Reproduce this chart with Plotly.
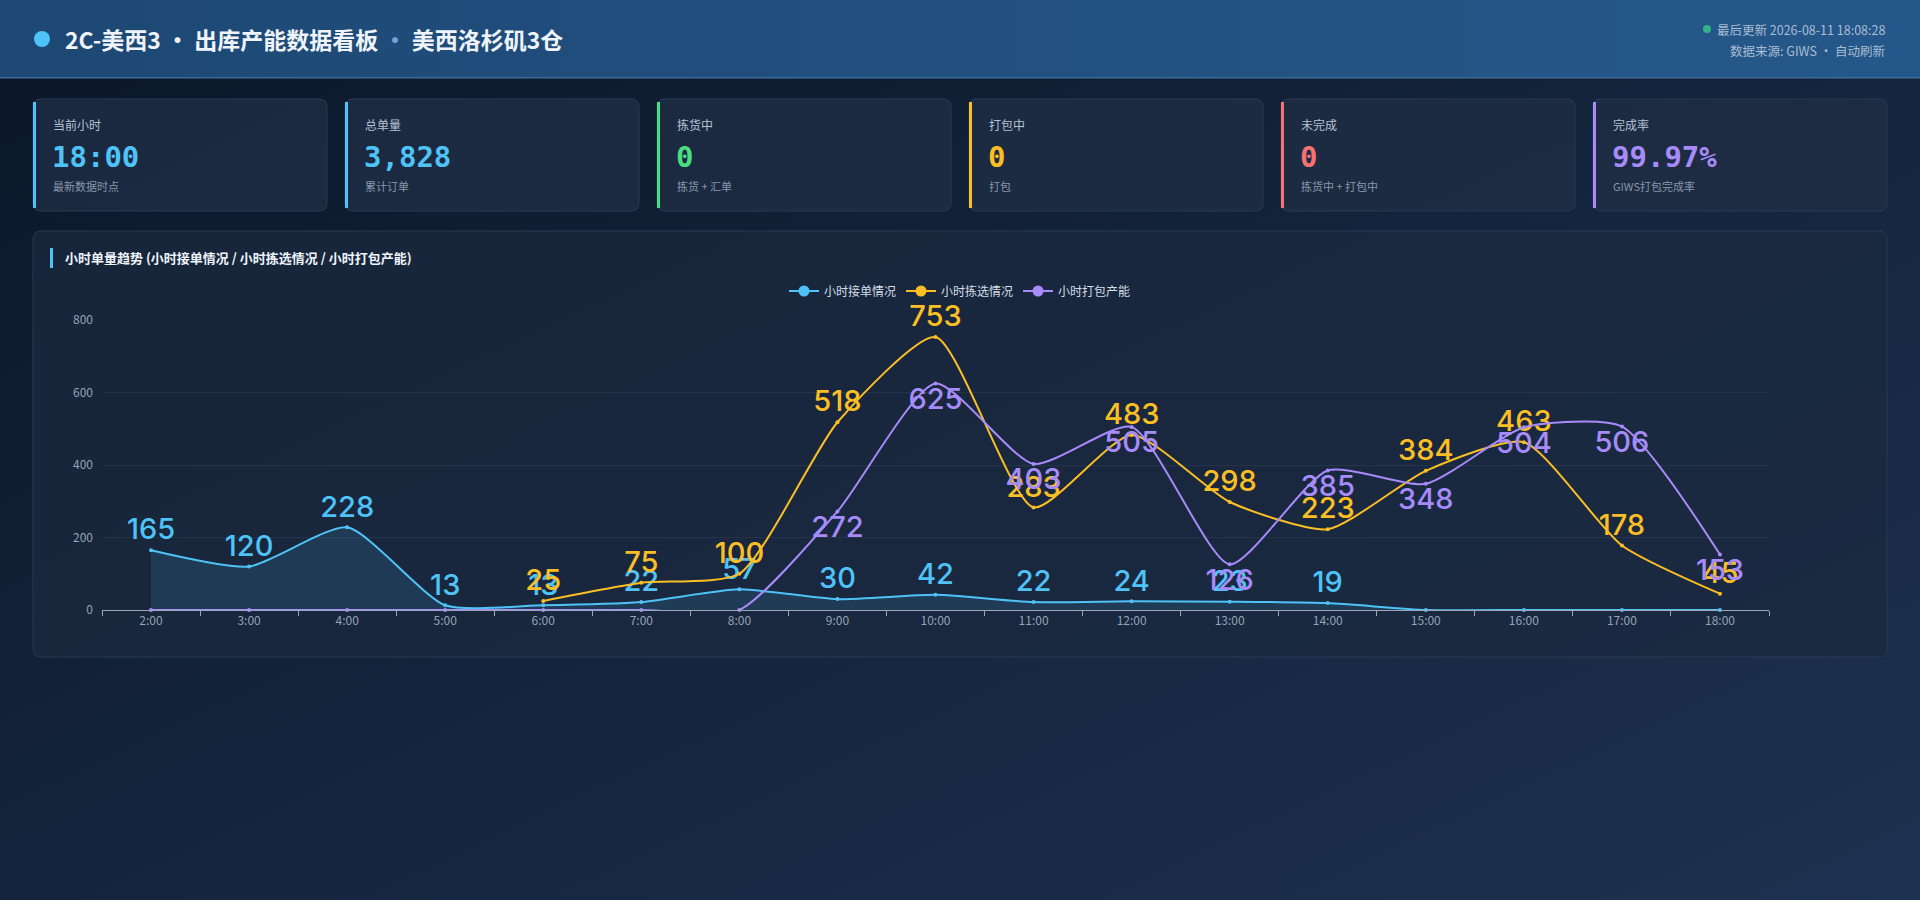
import base64
import plotly.graph_objects as go

W, H = 1920, 900

# ---- data ----
hours = ["2:00", "3:00", "4:00", "5:00", "6:00", "7:00", "8:00", "9:00", "10:00",
         "11:00", "12:00", "13:00", "14:00", "15:00", "16:00", "17:00", "18:00"]
orders_in = [165, 120, 228, 13, 13, 22, 57, 30, 42, 22, 24, 23, 19, 0, 0, 0, 0]
picked = [None, None, None, None, 25, 75, 100, 518, 753, 283, 483, 298, 223, 384, 463, 178, 45]
packed = [0, 0, 0, 0, 0, 0, 0, 272, 625, 403, 505, 126, 385, 348, 504, 506, 153]

series_names = ["小时接单情况", "小时拣选情况", "小时打包产能"]

card_titles = ["当前小时", "总单量", "拣货中", "打包中", "未完成", "完成率"]
card_values = ["18:00", "3,828", "0", "0", "0", "99.97%"]
card_notes = ["最新数据时点", "累计订单", "拣货 + 汇单", "打包", "拣货中 + 打包中", "GIWS打包完成率"]

BLUE, YELLOW, PURPLE = "#4fc3f7", "#fbbf24", "#a78bfa"
card_colors = [BLUE, BLUE, "#4ade80", YELLOW, "#f87171", PURPLE]

CJK = "Noto Sans CJK SC"
MONO = "DejaVu Sans Mono"
NUM = "Inter"


def fx(x):
    return x / W


def fy(y):
    return 1 - y / H


def rrect(x0, y0, x1, y1, r):
    # rounded rectangle as an svg path in paper coords
    pts = [("M", [(x0 + r, y0)]), ("L", [(x1 - r, y0)]), ("Q", [(x1, y0), (x1, y0 + r)]),
           ("L", [(x1, y1 - r)]), ("Q", [(x1, y1), (x1 - r, y1)]), ("L", [(x0 + r, y1)]),
           ("Q", [(x0, y1), (x0, y1 - r)]), ("L", [(x0, y0 + r)]), ("Q", [(x0, y0), (x0 + r, y0)])]
    out = ""
    for cmd, ps in pts:
        out += cmd + " " + " ".join(f"{fx(a):.5f},{fy(b):.5f}" for a, b in ps) + " "
    return out + "Z"


def labels(vals):
    return [str(v) if v else "" for v in vals]


fig = go.Figure()

# backdrop gradients (page + header)
svg = f'''<svg xmlns="http://www.w3.org/2000/svg" width="{W}" height="{H}" viewBox="0 0 {W} {H}" preserveAspectRatio="none">
<defs>
<linearGradient id="bg" x1="0" y1="0" x2="1" y2="1"><stop offset="0" stop-color="#0b1728"/><stop offset="1" stop-color="#1d3150"/></linearGradient>
<linearGradient id="hd" x1="0" y1="0" x2="1" y2="0"><stop offset="0" stop-color="#1d4874"/><stop offset="1" stop-color="#25588a"/></linearGradient>
</defs>
<rect width="{W}" height="{H}" fill="url(#bg)"/>
<rect width="{W}" height="78" fill="url(#hd)"/>
<rect y="77" width="{W}" height="1.5" fill="#3d6b97"/>
</svg>'''
src = "data:image/svg+xml;base64," + base64.b64encode(svg.encode("utf-8")).decode("ascii")
fig.add_layout_image(source=src, xref="paper", yref="paper", x=0, y=1, sizex=1, sizey=1,
                     xanchor="left", yanchor="top", sizing="stretch", layer="below")

# ---- traces ----
series = [orders_in, picked, packed]
colors = [BLUE, YELLOW, PURPLE]
positions = ["top center", "top center", "bottom center"]
for vals, name, col, pos in zip(series, series_names, colors, positions):
    fig.add_trace(go.Scatter(
        x=hours, y=vals, name=name, mode="lines+markers+text", showlegend=False,
        line=dict(color=col, width=2, shape="spline", smoothing=0.6),
        marker=dict(size=4, color=col),
        fill="tozeroy" if vals is orders_in else None,
        fillcolor="rgba(79,195,247,0.13)",
        text=labels(vals), textposition=pos,
        textfont=dict(family=NUM, size=29, color=col, weight=500), cliponaxis=False))

# legend entries with bigger symbol, like the reference legend
for name, col in zip(series_names, colors):
    fig.add_trace(go.Scatter(x=[None], y=[None], name=name, mode="lines+markers",
                             line=dict(color=col, width=2), marker=dict(size=11, color=col)))

shapes = []
ann = []

# header title + status
shapes.append(dict(type="circle", xref="paper", yref="paper", x0=fx(34), x1=fx(50), y0=fy(31), y1=fy(47),
                   fillcolor=BLUE, line=dict(width=0), layer="below"))
ann.append(dict(x=fx(63), y=fy(39), text="<b>2C-美西3 · 出库产能数据看板 <span style='color:#6fa8d8'>·</span> 美西洛杉矶3仓</b>",
                font=dict(family=CJK, size=23, color="#eef4fa")))
shapes.append(dict(type="circle", xref="paper", yref="paper", x0=fx(1703), x1=fx(1711), y0=fy(25), y1=fy(33),
                   fillcolor="#36b386", line=dict(width=0), layer="below"))
ann.append(dict(x=fx(1887), y=fy(29), xanchor="right", text="最后更新 2026-08-11 18:08:28",
                font=dict(family=CJK, size=12.5, color="#a9bdd3")))
ann.append(dict(x=fx(1887), y=fy(50), xanchor="right", text="数据来源: GIWS · 自动刷新",
                font=dict(family=CJK, size=12.5, color="#a9bdd3")))

# KPI cards
for i in range(6):
    x0 = 33 + i * 312
    x1 = x0 + 294
    shapes.append(dict(type="path", xref="paper", yref="paper", path=rrect(x0, 99, x1, 211, 8),
                       fillcolor="rgba(30,45,68,0.85)", line=dict(color="#2a3b55", width=1), layer="below"))
    shapes.append(dict(type="rect", xref="paper", yref="paper", x0=fx(x0), x1=fx(x0 + 3), y0=fy(102), y1=fy(208),
                       fillcolor=card_colors[i], line=dict(width=0), layer="below"))
    ann.append(dict(x=fx(x0 + 18), y=fy(125), text=card_titles[i],
                    font=dict(family=CJK, size=12, color="#b4c2d3")))
    ann.append(dict(x=fx(x0 + 17), y=fy(157), text=f"<b>{card_values[i]}</b>",
                    font=dict(family=MONO, size=29, color=card_colors[i])))
    ann.append(dict(x=fx(x0 + 18), y=fy(186), text=card_notes[i],
                    font=dict(family=CJK, size=11, color="#8797ab")))

# chart panel
shapes.append(dict(type="path", xref="paper", yref="paper", path=rrect(33, 231, 1887, 657, 8),
                   fillcolor="rgba(27,41,63,0.75)", line=dict(color="#283a53", width=1), layer="below"))
shapes.append(dict(type="rect", xref="paper", yref="paper", x0=fx(50), x1=fx(53), y0=fy(248), y1=fy(268),
                   fillcolor=BLUE, line=dict(width=0), layer="below"))
ann.append(dict(x=fx(63), y=fy(258), text="<b>小时单量趋势 (小时接单情况 / 小时拣选情况 / 小时打包产能)</b>",
                font=dict(family=CJK, size=13, color="#eef4fa")))

for a in ann:
    a.update(xref="paper", yref="paper", showarrow=False, xanchor=a.get("xanchor", "left"), yanchor="middle")

fig.update_layout(
    width=W, height=H, margin=dict(l=0, r=0, t=0, b=0, pad=0, autoexpand=False),
    paper_bgcolor="#13223a", plot_bgcolor="rgba(0,0,0,0)",
    font=dict(family=CJK, color="#94a3b8"),
    shapes=shapes, annotations=ann,
    showlegend=True,
    legend=dict(orientation="h", x=0.5, xanchor="center", y=fy(291), yanchor="middle",
                font=dict(family=CJK, size=12, color="#d4dde8"), bgcolor="rgba(0,0,0,0)",
                itemwidth=30, traceorder="normal"),
    xaxis=dict(domain=[fx(102), fx(1769)], type="category", range=[-0.5, len(hours) - 0.5],
               tickson="boundaries", ticks="outside",
               ticklen=5, tickcolor="#9aa8ba", showline=True, linecolor="#9aa8ba", linewidth=1,
               showgrid=False, zeroline=False, tickfont=dict(family=CJK, size=12, color="#94a3b8"),
               automargin=False, fixedrange=True),
    yaxis=dict(domain=[fy(610), fy(320)], range=[0, 800], dtick=200, showline=False, zeroline=False,
               gridcolor="rgba(148,163,184,0.10)", tickfont=dict(family=CJK, size=12, color="#94a3b8"),
               ticklabelstandoff=8, automargin=False, fixedrange=True),
)

pin = ("document.body.style.margin='0';document.body.style.overflow='hidden';"
       "var gd=document.getElementById('{plot_id}');"
       "gd.style.position='fixed';gd.style.top='0px';gd.style.left='0px';")
fig.write_html("out.html", config={"displayModeBar": False}, post_script=pin)
